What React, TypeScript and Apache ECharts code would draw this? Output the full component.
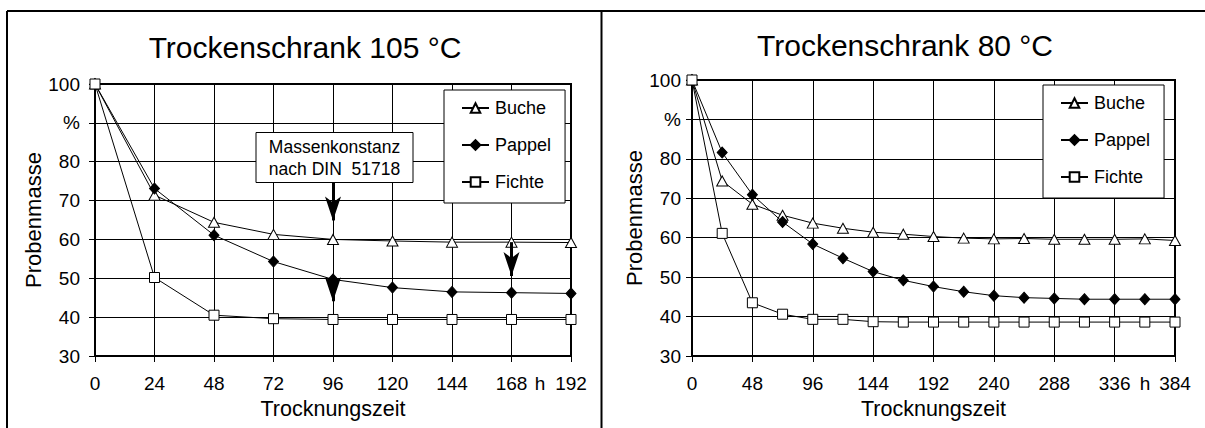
import React, { useEffect, useRef } from "react";
import * as echarts from "echarts";

const FONT = '"Liberation Sans", Arial, Helvetica, sans-serif';

const SERIES_NAMES = ["Buche", "Pappel", "Fichte"];

const TITLE_105 = "Trockenschrank 105 °C";
const TITLE_80 = "Trockenschrank 80 °C";
const X_NAME = "Trocknungszeit";
const Y_NAME = "Probenmasse";

const X_105 = [0, 24, 48, 72, 96, 120, 144, 168, 192];
const BUCHE_105 = [100, 71.4, 64.4, 61.3, 60.0, 59.6, 59.3, 59.3, 59.2];
const PAPPEL_105 = [100, 73.1, 61.1, 54.3, 49.7, 47.6, 46.5, 46.3, 46.1];
const FICHTE_105 = [100, 50.2, 40.5, 39.6, 39.4, 39.4, 39.4, 39.4, 39.4];

const X_80 = [0, 24, 48, 72, 96, 120, 144, 168, 192, 216, 240, 264, 288, 312, 336, 360, 384];
const BUCHE_80 = [100, 74.4, 68.5, 65.7, 63.7, 62.4, 61.4, 60.9, 60.3, 59.9, 59.7, 59.8, 59.6, 59.6, 59.6, 59.7, 59.3];
const PAPPEL_80 = [100, 81.6, 70.9, 64.0, 58.4, 54.8, 51.4, 49.2, 47.6, 46.3, 45.3, 44.8, 44.6, 44.4, 44.4, 44.4, 44.4];
const FICHTE_80 = [100, 61.1, 43.5, 40.6, 39.3, 39.3, 38.7, 38.6, 38.6, 38.6, 38.6, 38.6, 38.6, 38.6, 38.6, 38.6, 38.6];

// arrows (x, start value, tip value) in the 105 °C chart
const ARROWS_105: [number, number, number][] = [
  [96, 74.6, 61.8],
  [96, 49.7, 41.0],
  [168, 59.3, 47.5],
];

const NOTE_LINES = ["Massenkonstanz", "nach DIN  51718"];

const Y_MIN = 30;
const Y_MAX = 100;
const Y_STEP = 10;

const pairs = (xs: number[], ys: number[]) => xs.map((x, i) => [x, ys[i]]);

export default function App() {
  const ref = useRef<HTMLDivElement>(null);

  useEffect(() => {
    document.body.style.margin = "0";
    if (!ref.current) return;
    const chart = echarts.init(ref.current, undefined, { renderer: "svg" });

    const grids = [
      { left: 95, top: 84, width: 476, height: 272 },
      { left: 692, top: 80, width: 483, height: 276 },
    ];

    const arrowHead = 24;
    const pxPerUnit0 = grids[0].height / (Y_MAX - Y_MIN);

    const baseText = { color: "#000", fontFamily: FONT };

    const xAxis = (gi: number, max: number, interval: number) => ({
      type: "value",
      gridIndex: gi,
      min: 0,
      max,
      interval,
      name: X_NAME,
      nameLocation: "middle",
      nameGap: 40,
      nameTextStyle: { ...baseText, fontSize: 21.5 },
      axisLine: { show: true, lineStyle: { color: "#000", width: 2 } },
      axisTick: { show: true, inside: false, length: 6, lineStyle: { color: "#000", width: 1 } },
      axisLabel: { ...baseText, fontSize: 19, margin: 18 },
      splitLine: { show: true, lineStyle: { color: "#000", width: 1 } },
    });

    const yAxis = (gi: number, margin: number) => ({
      type: "value",
      gridIndex: gi,
      min: Y_MIN,
      max: Y_MAX,
      interval: Y_STEP,
      name: Y_NAME,
      nameLocation: "middle",
      nameGap: 46,
      nameRotate: 90,
      nameTextStyle: { ...baseText, fontSize: 22 },
      axisLine: { show: true, lineStyle: { color: "#000", width: 2 } },
      axisTick: { show: true, inside: false, length: 6, lineStyle: { color: "#000", width: 1 } },
      axisLabel: {
        ...baseText,
        fontSize: 19,
        margin,
        formatter: (v: number) => (v === 90 ? "%" : String(v)),
      },
      splitLine: { show: true, lineStyle: { color: "#000", width: 1 } },
    });

    const styles = [
      { symbol: "triangle", symbolSize: [11, 10], itemStyle: { color: "#fff", borderColor: "#000", borderWidth: 1 } },
      { symbol: "diamond", symbolSize: [10, 11], itemStyle: { color: "#000", borderColor: "#000", borderWidth: 1 } },
      { symbol: "rect", symbolSize: 10, itemStyle: { color: "#fff", borderColor: "#000", borderWidth: 1 } },
    ];

    const mk = (gi: number, idx: number, xs: number[], ys: number[], extra: any = {}) => ({
      type: "line",
      name: SERIES_NAMES[idx],
      xAxisIndex: gi,
      yAxisIndex: gi,
      data: pairs(xs, ys),
      showSymbol: true,
      ...styles[idx],
      lineStyle: { color: "#000", width: 1 },
      emphasis: { disabled: true },
      z: 3 + idx,
      ...extra,
    });

    const arrowLines = {
      markLine: {
        silent: true,
        symbol: ["none", "arrow"],
        symbolSize: [12, arrowHead],
        label: { show: false },
        lineStyle: { color: "#000", width: 3, type: "solid" },
        itemStyle: { color: "#000" },
        emphasis: { disabled: true },
        data: ARROWS_105.map(([x, from, tip]) => [
          { coord: [x, from] },
          { coord: [x, tip + arrowHead / 2 / pxPerUnit0] },
        ]),
      },
    };

    const legend = (left: number, top: number) => ({
      data: SERIES_NAMES,
      orient: "vertical",
      left,
      top,
      itemWidth: 27,
      itemHeight: 12,
      itemGap: 19,
      padding: [9, 14, 12, 17],
      borderColor: "#000",
      borderWidth: 1,
      backgroundColor: "#fff",
      textStyle: { ...baseText, fontSize: 18, padding: [0, 0, 0, 1] },
      selectedMode: false,
      z: 10,
    });

    const txt = (x: number, y: number, text: string, size: number, extra: any = {}) => ({
      type: "text",
      x,
      y,
      z: 100,
      silent: true,
      style: {
        text,
        fill: "#000",
        fontSize: size,
        fontFamily: FONT,
        align: "center",
        verticalAlign: "middle",
        ...extra,
      },
    });

    chart.setOption({
      animation: false,
      backgroundColor: "#fff",
      grid: grids.map((g) => ({ ...g, show: true, borderColor: "#000", borderWidth: 2, backgroundColor: "transparent", containLabel: false })),
      xAxis: [xAxis(0, 192, 24), xAxis(1, 384, 48)],
      yAxis: [yAxis(0, 15), yAxis(1, 11)],
      legend: [legend(444, 90), legend(1043, 85)],
      series: [
        mk(0, 0, X_105, BUCHE_105),
        mk(0, 1, X_105, PAPPEL_105, arrowLines),
        mk(0, 2, X_105, FICHTE_105),
        mk(1, 0, X_80, BUCHE_80),
        mk(1, 1, X_80, PAPPEL_80),
        mk(1, 2, X_80, FICHTE_80),
      ],
      graphic: [
        { type: "line", silent: true, z: 100, shape: { x1: 7, y1: 11, x2: 1205, y2: 11 }, style: { stroke: "#000", lineWidth: 2 } },
        { type: "line", silent: true, z: 100, shape: { x1: 7, y1: 11, x2: 7, y2: 428 }, style: { stroke: "#000", lineWidth: 2 } },
        { type: "line", silent: true, z: 100, shape: { x1: 601.5, y1: 11, x2: 601.5, y2: 428 }, style: { stroke: "#000", lineWidth: 2 } },
        txt(305, 47, TITLE_105, 30),
        txt(905, 45, TITLE_80, 30),
        txt(540, 383.5, "h", 19),
        txt(1145, 383.5, "h", 19),
        {
          type: "rect",
          silent: true,
          z: 99,
          shape: { x: 256, y: 132.5, width: 157, height: 50 },
          style: { fill: "#fff", stroke: "#000", lineWidth: 1 },
        },
        txt(334.5, 147, NOTE_LINES[0], 17.5),
        txt(334.5, 168.5, NOTE_LINES[1], 17.5),
      ],
    });

    return () => chart.dispose();
  }, []);

  return <div ref={ref} style={{ width: 1205, height: 428 }} />;
}
